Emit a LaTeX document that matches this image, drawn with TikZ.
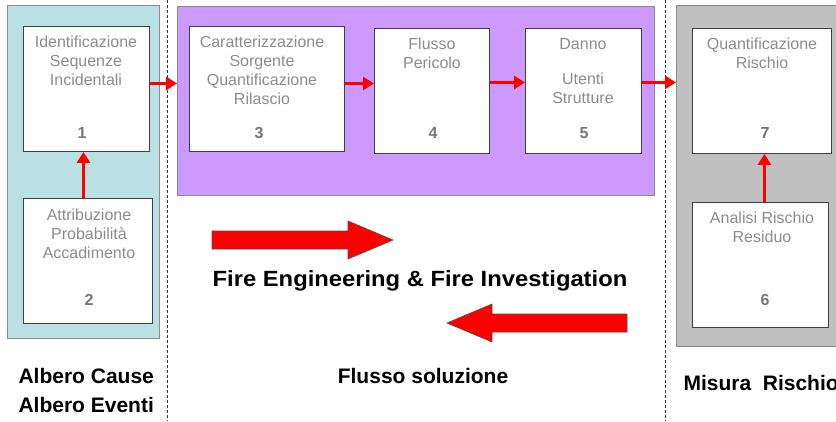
\documentclass[tikz,border=0pt]{standalone}
\usepackage{fontspec}
\setmainfont{Liberation Sans}
\newfontfamily\widesans[FakeStretch=1.08]{Liberation Sans}
\usetikzlibrary{arrows.meta}
\definecolor{panelteal}{RGB}{185,224,227}
\definecolor{panelviolet}{RGB}{204,153,255}
\definecolor{panelgray}{RGB}{192,192,192}
\definecolor{boxtext}{RGB}{140,140,140}
\definecolor{numtext}{RGB}{118,118,118}
\definecolor{arrowred}{RGB}{255,0,0}
\begin{document}
\begin{tikzpicture}[x=1pt,y=-1pt,
  panel/.style={draw=black!45, line width=0.8pt, anchor=north west, inner sep=0pt},
  stepbox/.style={draw=black!75, fill=white, line width=0.9pt, anchor=north west, inner sep=0pt},
  boxlabel/.style={text=boxtext, align=center, font=\fontsize{16}{19}\selectfont},
  boxnum/.style={text=numtext, font=\bfseries\fontsize{16}{19}\selectfont},
  caption/.style={font=\bfseries\fontsize{21}{25}\selectfont, text=black},
  link/.style={draw=arrowred, line width=3pt, -{Triangle[length=11pt,width=13pt]}, shorten >=0pt},
  bigarrow/.style={fill=arrowred, draw=black!70, line width=0.6pt, line join=miter},
  divider/.style={draw=black!80, line width=0.7pt, dash pattern=on 3pt off 2pt}
]
\useasboundingbox (0,0) rectangle (836,421);
\clip (0,0) rectangle (836,421);

% phase panels
\node[panel, fill=panelteal, minimum width=152pt, minimum height=333pt] (pA) at (7,5) {};
\node[panel, fill=panelviolet, minimum width=477pt, minimum height=189pt] (pB) at (177,6) {};
\node[panel, fill=panelgray, minimum width=175pt, minimum height=341pt] (pC) at (676,5) {};

% phase dividers
\coordinate (d1t) at (167,0); \coordinate (d1b) at (167,421);
\coordinate (d2t) at (665,0); \coordinate (d2b) at (665,421);
\draw[divider] (d1t) -- (d1b);
\draw[divider] (d2t) -- (d2b);

% step boxes
\node[stepbox, minimum width=126pt, minimum height=125pt] (b1) at (23,26) {};
\node[stepbox, minimum width=129pt, minimum height=125pt] (b2) at (23,198) {};
\node[stepbox, minimum width=155pt, minimum height=125pt] (b3) at (189,26) {};
\node[stepbox, minimum width=115pt, minimum height=125pt] (b4) at (374,28) {};
\node[stepbox, minimum width=116pt, minimum height=125pt] (b5) at (525,28) {};
\node[stepbox, minimum width=139pt, minimum height=125pt] (b7) at (692,28) {};
\node[stepbox, minimum width=136pt, minimum height=125pt] (b6) at (692,202) {};

% box texts
\node[boxlabel] (t1) at (86,61) {Identificazione\\Sequenze\\Incidentali};
\node[boxnum] (n1) at (82,133) {1};
\node[boxlabel] (t2) at (89,234) {Attribuzione\\Probabilità\\Accadimento};
\node[boxnum] (n2) at (89,300) {2};
\node[boxlabel] (t3) at (262,70) {Caratterizzazione\\Sorgente\\Quantificazione\\Rilascio};
\node[boxnum] (n3) at (259,133) {3};
\node[boxlabel] (t4) at (432,53) {Flusso\\Pericolo};
\node[boxnum] (n4) at (433,133) {4};
\node[boxlabel] (t5) at (583,71) {Danno\\[16pt]Utenti\\Strutture};
\node[boxnum] (n5) at (584,133) {5};
\node[boxlabel] (t7) at (762,53) {Quantificazione\\Rischio};
\node[boxnum] (n7) at (765,133) {7};
\node[boxlabel] (t6) at (762,227) {Analisi Rischio\\Residuo};
\node[boxnum] (n6) at (765,300) {6};

% flow connectors
\draw[link] ([yshift=5.5pt]b1.east) -- ([yshift=5.5pt]b1.east -| pB.west);
\draw[link] ([yshift=5.5pt]b3.east) -- ([yshift=5.5pt]b3.east -| b4.west);
\draw[link] ([yshift=8.5pt]b4.east) -- ([yshift=8.5pt]b4.east -| b5.west);
\draw[link] ([yshift=8.5pt]b5.east) -- ([yshift=8.5pt]b5.east -| pC.west);
\draw[link] ([xshift=-3pt]b2.north -| b1.south) -- ([xshift=-3pt]b1.south);
\draw[link] ([xshift=2.5pt]b6.north -| b7.south) -- ([xshift=2.5pt]b7.south);

% big direction arrows
\filldraw[bigarrow] (212,231) -- (348,231) -- (348,221) -- (393,240) -- (348,259) -- (348,249) -- (212,249) -- cycle;
\filldraw[bigarrow] (627,314) -- (492,314) -- (492,304) -- (447,323) -- (492,342) -- (492,332) -- (627,332) -- cycle;

% captions
\node[caption, font=\widesans\bfseries\fontsize{22}{26}\selectfont, anchor=base] (cfe) at (420,286) {Fire Engineering \& Fire Investigation};
\node[caption, anchor=base] (cfs) at (423,383) {Flusso soluzione};
\node[caption, anchor=base west] (ca1) at (15,383) {Albero Cause};
\node[caption, anchor=base west] (ca2) at (15,412) {Albero Eventi};
\node[caption, anchor=base west] (cm) at (680,390) {Misura\ \ Rischio};
\end{tikzpicture}
\end{document}
